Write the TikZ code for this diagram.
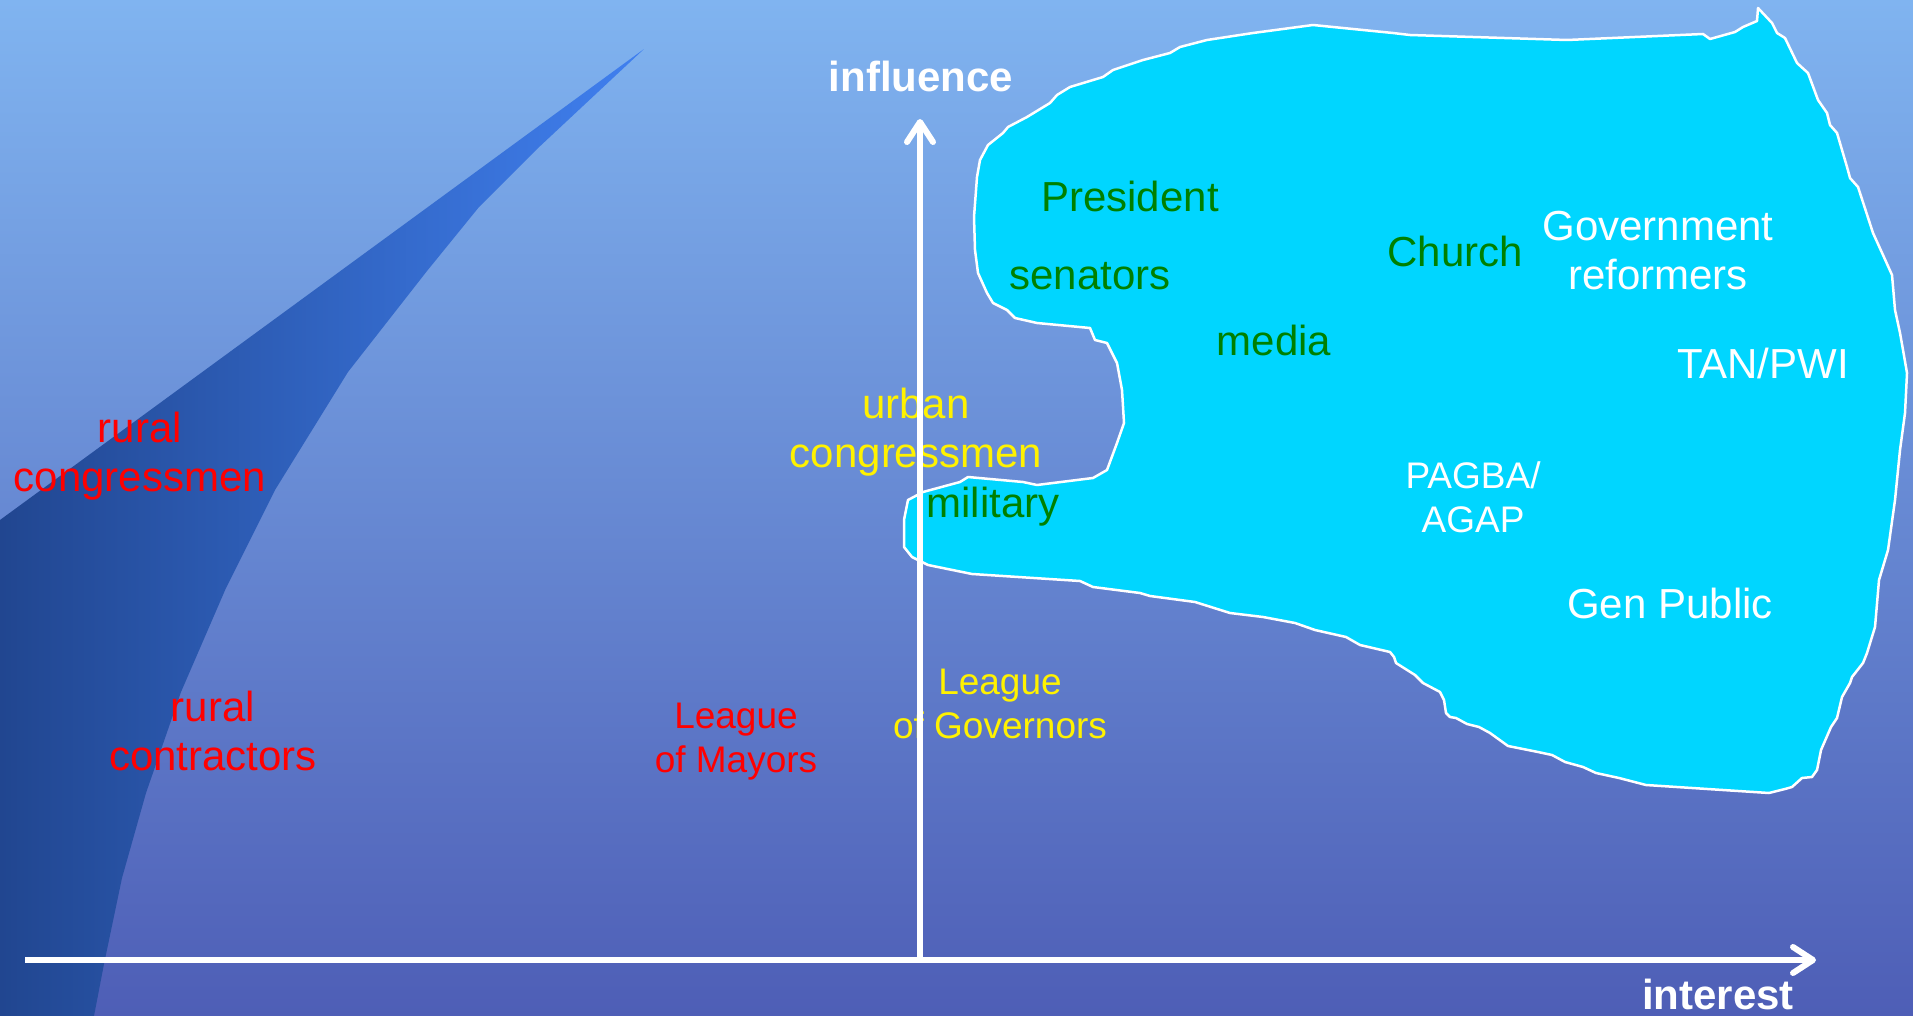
\documentclass[tikz,border=0pt]{standalone}
\usepackage{fontspec}
\setmainfont{Liberation Sans}
\usetikzlibrary{arrows.meta}
\definecolor{bgtop}{RGB}{128,180,240}
\definecolor{bgbot}{RGB}{78,94,182}
\definecolor{wedgedark}{RGB}{33,70,144}
\definecolor{wedgelight}{RGB}{64,128,240}
\definecolor{blobcyan}{RGB}{0,214,255}
\definecolor{actgreen}{RGB}{0,128,0}
\begin{document}
\begin{tikzpicture}[x = 1pt, y = -1pt,
                    lbl/.style = {anchor = base,
                                  inner sep = 0pt,
                                  align = center,
                                  font = \fontsize{42}{49}\selectfont},
                    slbl/.style = {lbl,
                                   font = \fontsize{37}{44}\selectfont},
                    axlbl/.style = {lbl,
                                    text = white,
                                    font = \fontsize{42}{49}\selectfont\bfseries},
                    axis/.style = {white,
                                   line width = 6pt,
                                   -{Straight Barb[length = 20pt, width = 26pt, round]}}]
		\useasboundingbox (0,0) rectangle (1913,1016);
		\shade[top color = bgtop, bottom color = bgbot] (0,0) rectangle (1913,1016);
		% wedge on the left
		\shade[left color = wedgedark, right color = wedgelight]
			(644,49) -- (537,149) -- (479,207) -- (427,271) -- (348,372) -- (275,490)
			-- (226,588) -- (181,692) -- (146,793) -- (122,878) -- (104,964) -- (94,1016)
			-- (0,1016) -- (0,520) -- cycle;
		% the region
		\filldraw[fill = blobcyan, draw = white, line width = 2.5pt, line join = round]
			(974,217) -- (977,177) -- (980,160) -- (988,145) -- (1003,133) -- (1008,127)
			-- (1027,117) -- (1050,103) -- (1057,95) -- (1070,87) -- (1103,77) -- (1113,70)
			-- (1143,60) -- (1170,53) -- (1180,47) -- (1207,40) -- (1253,33) -- (1313,25)
			-- (1393,33) -- (1410,35) -- (1567,40) -- (1703,34) -- (1710,39) -- (1735,32)
			-- (1743,27) -- (1757,21) -- (1758,8) -- (1772,23) -- (1777,33) -- (1785,38)
			-- (1797,63) -- (1808,73) -- (1818,100) -- (1827,113) -- (1830,125) -- (1837,133)
			-- (1847,167) -- (1850,178) -- (1858,187) -- (1873,233) -- (1883,255) -- (1892,275)
			-- (1895,310) -- (1900,333) -- (1903,350) -- (1907,373) -- (1905,413) -- (1900,450)
			-- (1895,500) -- (1888,550) -- (1879,580) -- (1875,627) -- (1867,653) -- (1863,663)
			-- (1852,677) -- (1850,683) -- (1842,697) -- (1837,718) -- (1831,727) -- (1821,750)
			-- (1817,770) -- (1812,777) -- (1802,778) -- (1792,787) -- (1785,789) -- (1769,793)
			-- (1646,785) -- (1619,778) -- (1596,773) -- (1583,767) -- (1565,762) -- (1552,755)
			-- (1538,752) -- (1508,746) -- (1490,733) -- (1479,727) -- (1467,724) -- (1456,718)
			-- (1450,717) -- (1446,713) -- (1444,700) -- (1440,692) -- (1423,683) -- (1415,675)
			-- (1396,663) -- (1394,657) -- (1390,652) -- (1360,645) -- (1346,637) -- (1315,630)
			-- (1295,623) -- (1263,617) -- (1230,613) -- (1195,602) -- (1150,596) -- (1140,593)
			-- (1093,587) -- (1080,581) -- (972,574) -- (928,565) -- (912,557) -- (904,547)
			-- (904,520) -- (908,500) -- (923,492) -- (960,482) -- (968,477) -- (1023,482)
			-- (1037,485) -- (1093,478) -- (1107,470) -- (1117,443) -- (1124,423) -- (1122,390)
			-- (1117,363) -- (1107,343) -- (1095,340) -- (1090,328) -- (1037,323) -- (1015,318)
			-- (1007,310) -- (993,303) -- (987,293) -- (978,273) -- (975,250) -- cycle;
		% actors (base of a two line node = its last line)
		\node[lbl, text = red] (ruralcong) at (140,491) {rural\\congressmen};
		\node[lbl, text = red] (ruralcontr) at (213,770) {rural\\contractors};
		\node[slbl, text = red] (mayors) at (736,772) {League\\of Mayors};
		\node[lbl, text = yellow] (urbancong) at (916,467) {urban\\congressmen};
		\node[slbl, text = yellow] (governors) at (1000,738) {League\\of Governors};
		\node[lbl, text = actgreen] (military) at (993,517) {military};
		\node[lbl, text = actgreen] (president) at (1130,212) {President};
		\node[lbl, text = actgreen] (senators) at (1090,290) {senators};
		\node[lbl, text = actgreen] (media) at (1274,355) {media};
		\node[lbl, text = actgreen] (church) at (1455,267) {Church};
		\node[lbl, text = white] (reformers) at (1658,290) {Government\\reformers};
		\node[lbl, text = white] (tanpwi) at (1763,378) {TAN/PWI};
		\node[slbl, text = white] (pagba) at (1473,532) {PAGBA/\\AGAP};
		\node[lbl, text = white] (genpublic) at (1670,618) {Gen Public};
		% axes
		\node[axlbl] (influence) at (921,92) {influence};
		\node[axlbl] (interest) at (1718,1009) {interest};
		\coordinate (xstart) at (25,960);
		\coordinate (xend) at (1816,960);
		\coordinate (origin) at (920,960);
		\coordinate (yend) at (920,119);
		\draw[axis] (xstart) -- (xend);
		\draw[axis] (origin) -- (yend);
	\end{tikzpicture}
\end{document}
